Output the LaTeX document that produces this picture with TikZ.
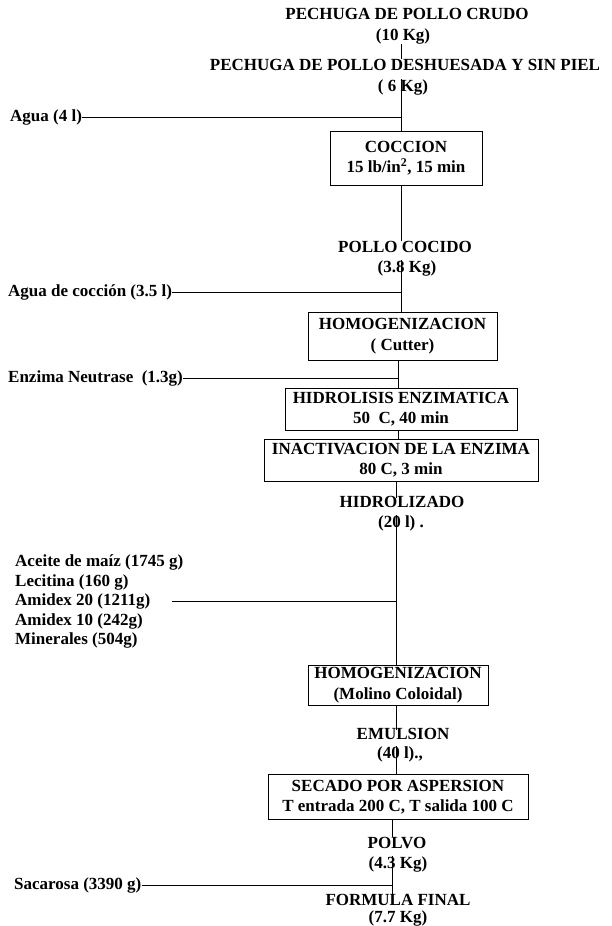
\documentclass[tikz,border=0pt]{standalone}
\usepackage{fontspec}
\setmainfont{Liberation Serif}
\begin{document}
\begin{tikzpicture}[x=1pt,y=-1pt,
  every node/.style={font=\bfseries\fontsize{17}{20.5}\selectfont, inner sep=0pt, align=center},
  procbox/.style={draw, line width=0.9pt},
  lbl/.style={anchor=west},
  conn/.style={line width=0.9pt}]
\useasboundingbox (0,0) rectangle (612,926);
% trunk x positions
\coordinate (tA) at (401,0);
\coordinate (tB) at (398,0);
\coordinate (tC) at (396,0);
\coordinate (tD) at (392,0);
% texts and boxes
\node (crudo) at (407,14) {PECHUGA DE POLLO CRUDO};
\node (crudokg) at (403,36) {(10 Kg)};
\node (desh) at (405,65) {PECHUGA DE POLLO DESHUESADA Y SIN PIEL};
\node (deshkg) at (403,87) {( 6 Kg)};
\node[lbl] (agua) at (10,117) {Agua (4 l)};
\node[procbox, minimum width=152, minimum height=54] (coccion) at (406,158) {COCCION\\15 lb/in\textsuperscript{2}, 15 min};
\node (pollo) at (405,247) {POLLO COCIDO};
\node (pollokg) at (407,268) {(3.8 Kg)};
\node[lbl] (aguacoc) at (8,292) {Agua de cocción (3.5 l)};
\node[procbox, minimum width=189, minimum height=48] (homog) at (402.5,336) {HOMOGENIZACION\\( Cutter)};
\node[lbl] (enzima) at (8,378) {Enzima Neutrase\ \ (1.3g)};
\node[procbox, minimum width=232, minimum height=42] (hidro) at (401,409) {HIDROLISIS ENZIMATICA\\50\ \ C, 40 min};
\node[procbox, minimum width=274, minimum height=42] (inact) at (401,460) {INACTIVACION DE LA ENZIMA\\80 C, 3 min};
\node (hidrz) at (402,502) {HIDROLIZADO};
\node (hidrzkg) at (401,523) {(20 l)\ .};
\node[lbl] (aceite) at (15,562) {Aceite de maíz (1745 g)};
\node[lbl] (lecitina) at (15,582) {Lecitina (160 g)};
\node[lbl] (amidexa) at (15,601) {Amidex 20 (1211g)};
\node[lbl] (amidexb) at (15,621) {Amidex 10 (242g)};
\node[lbl] (minerales) at (15,640) {Minerales (504g)};
\node[procbox, minimum width=180, minimum height=40] (molino) at (398,685) {HOMOGENIZACION\\(Molino Coloidal)};
\node (emul) at (403,734) {EMULSION};
\node (emulkg) at (400,754) {(40 l).,};
\node[procbox, minimum width=260, minimum height=45] (secado) at (398,797) {SECADO POR ASPERSION\\T entrada 200 C, T salida 100 C};
\node (polvo) at (397,843) {POLVO};
\node (polvokg) at (398,864) {(4.3 Kg)};
\node[lbl] (sacarosa) at (14,885) {Sacarosa (3390 g)};
\node (formula) at (398,900) {FORMULA FINAL};
\node (formulakg) at (398,918) {(7.7 Kg)};
% connectors
\draw[conn] (crudokg.south -| tA) -- (desh.north -| tA);
\draw[conn] (deshkg.north -| tA) -- (coccion.north -| tA);
\draw[conn] (agua.east) -- (agua.east -| tA);
\draw[conn] (coccion.south -| tA) -- (pollo.north -| tA);
\draw[conn] (pollokg.north -| tA) -- (homog.north -| tA);
\draw[conn] (aguacoc.east) -- (aguacoc.east -| tA);
\draw[conn] (homog.south -| tB) -- (hidro.north -| tB);
\draw[conn] (enzima.east) -- (enzima.east -| tB);
\draw[conn] (hidro.south -| tB) -- (inact.north -| tB);
\draw[conn] (inact.south -| tC) -- ([yshift=-2pt]hidrz.north -| tC);
\draw[conn] (hidrzkg.north -| tC) -- (molino.north -| tC);
\draw[conn] ([xshift=22pt]amidexa.east) -- (amidexa.east -| tC);
\draw[conn] (molino.south -| tC) -- ([yshift=-2pt]emul.north -| tC);
\draw[conn] (emulkg.north -| tC) -- (secado.north -| tC);
\draw[conn] (secado.south -| tD) -- (polvo.north -| tD);
\draw[conn] (polvokg.north -| tD) -- (formula.north -| tD);
\draw[conn] (sacarosa.east) -- (sacarosa.east -| tD);
\end{tikzpicture}
\end{document}
